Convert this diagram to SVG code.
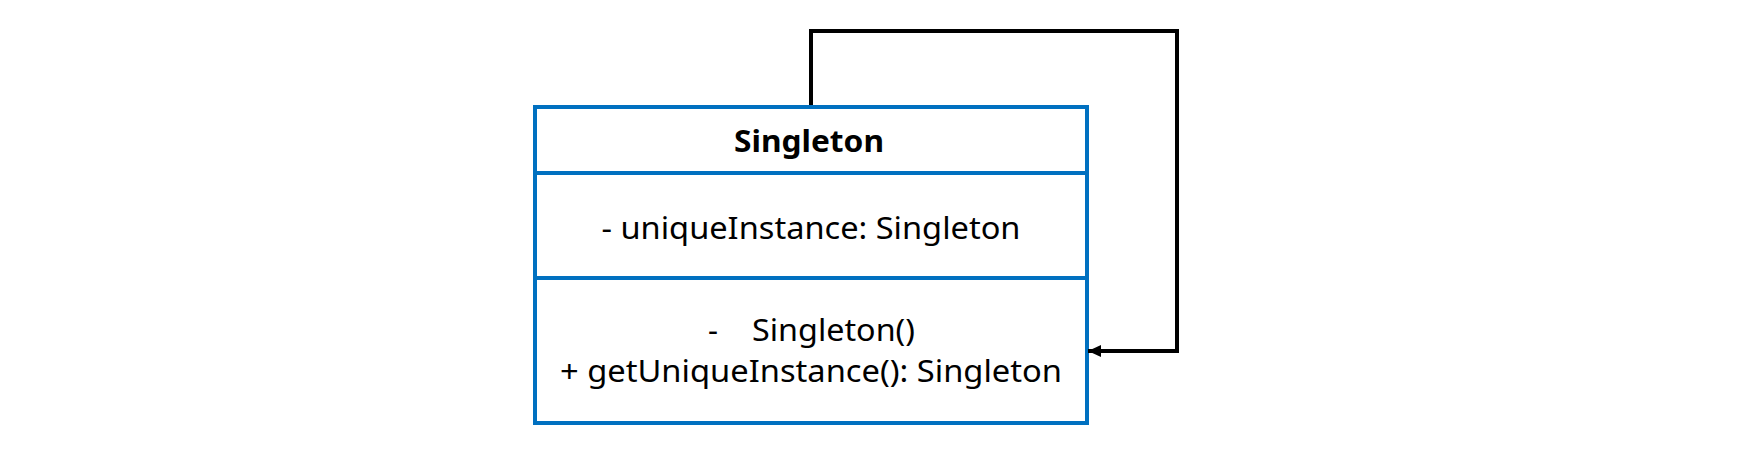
<svg xmlns="http://www.w3.org/2000/svg" width="1737" height="449" viewBox="0 0 1737 449">
  <style>
    .box { fill: #ffffff; stroke: #0070C0; stroke-width: 4; }
    .div { stroke: #0070C0; stroke-width: 4; }
    .t { font-family: "Noto Sans", "Open Sans", "Liberation Sans", sans-serif; font-size: 31px; fill: #000000; }
    .title { font-weight: bold; }
    .conn { fill: none; stroke: #000000; stroke-width: 4; stroke-linejoin: miter; }
  </style>
  <defs>
    <marker id="arrow" markerUnits="userSpaceOnUse" markerWidth="14" markerHeight="12" refX="13" refY="6" orient="auto">
      <path d="M0,0 L13,6 L0,12 Z" fill="#000000"/>
    </marker>
  </defs>
  <rect x="0" y="0" width="1737" height="449" fill="#ffffff"/>
  <g id="singleton">
    <rect class="box" x="535" y="107" width="552" height="316"/>
    <line class="div" x1="535" y1="173" x2="1087" y2="173"/>
    <line class="div" x1="535" y1="278" x2="1087" y2="278"/>
    <text class="t title" x="809" y="152" text-anchor="middle" textLength="150" lengthAdjust="spacingAndGlyphs">Singleton</text>
    <text class="t" x="811" y="239" text-anchor="middle" textLength="419" lengthAdjust="spacingAndGlyphs">- uniqueInstance: Singleton</text>
    <text class="t"><tspan x="708" y="341">-</tspan><tspan x="752" y="341" textLength="163" lengthAdjust="spacingAndGlyphs">Singleton()</tspan></text>
    <text class="t" x="811" y="382" text-anchor="middle" textLength="502" lengthAdjust="spacingAndGlyphs">+ getUniqueInstance(): Singleton</text>
  </g>
  <g id="connectors">
    <path class="conn" d="M811,105 L811,31 L1177,31 L1177,351 L1088,351" marker-end="url(#arrow)"/>
  </g>
</svg>
